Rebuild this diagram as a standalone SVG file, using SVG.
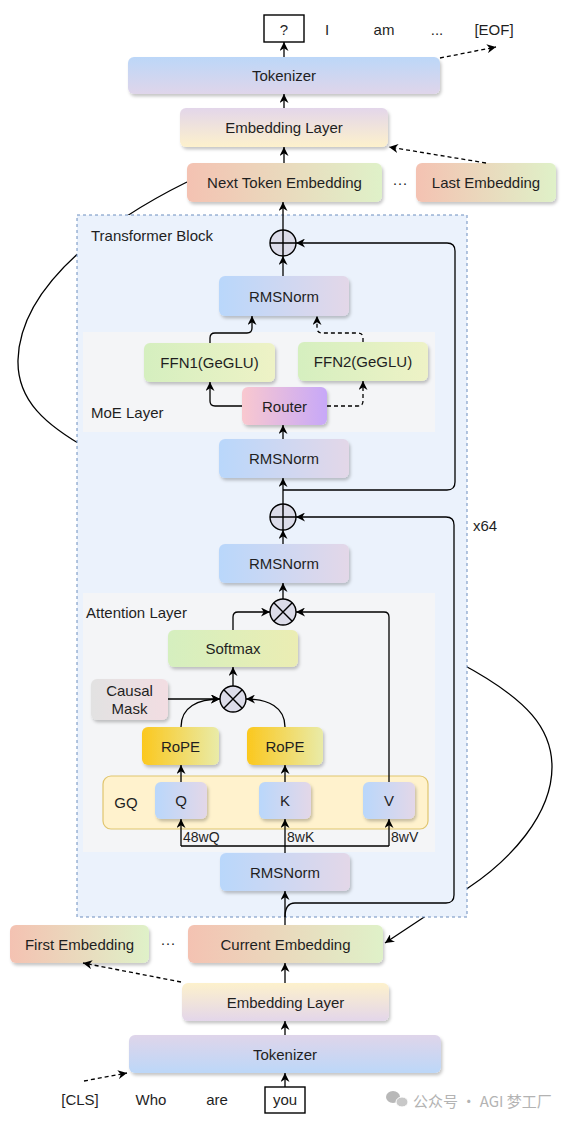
<svg xmlns="http://www.w3.org/2000/svg" width="578" height="1124" viewBox="0 0 578 1124">
<style>
text{font-family:"Liberation Sans",Arial,sans-serif;font-size:15px;fill:#1f1f1f;text-anchor:middle;dominant-baseline:central}
.n{filter:url(#sh)}
.ln{fill:none;stroke:#000;stroke-width:1.3}
.ar{marker-end:url(#ah)}
.ds{stroke-dasharray:4 3}
.op{fill:#dcdce9;stroke:#000;stroke-width:1.4}
.tl{text-anchor:start}
</style>
<defs>
<filter id="sh" x="-10%" y="-20%" width="130%" height="150%"><feDropShadow dx="1.5" dy="2.5" stdDeviation="1.5" flood-color="#000" flood-opacity="0.22"/></filter>
<marker id="ah" viewBox="0 0 10 10" refX="10" refY="5" markerWidth="9" markerHeight="9" markerUnits="userSpaceOnUse" orient="auto"><path d="M0,0 L10,5 L0,10 L3,5 z" fill="#000"/></marker>
<linearGradient id="gBlue" x1="0" y1="0" x2="1" y2="0"><stop offset="0" stop-color="#b9d7fb"/><stop offset="1" stop-color="#e3d7e8"/></linearGradient>
<linearGradient id="gTokT" x1="0" y1="0" x2="0" y2="1"><stop offset="0" stop-color="#bcd7f8"/><stop offset="1" stop-color="#dfd5ea"/></linearGradient>
<linearGradient id="gTokB" x1="0" y1="0" x2="0" y2="1"><stop offset="0" stop-color="#dfd5ea"/><stop offset="1" stop-color="#bcd7f8"/></linearGradient>
<linearGradient id="gEmbT" x1="0" y1="0" x2="0" y2="1"><stop offset="0" stop-color="#e3d6ea"/><stop offset="1" stop-color="#fdf1cc"/></linearGradient>
<linearGradient id="gEmbB" x1="0" y1="0" x2="0" y2="1"><stop offset="0" stop-color="#fdf1cc"/><stop offset="1" stop-color="#e3d6ea"/></linearGradient>
<linearGradient id="gTok" x1="0" y1="0" x2="1" y2="0"><stop offset="0" stop-color="#f4c2b2"/><stop offset="1" stop-color="#dff1c8"/></linearGradient>
<linearGradient id="gFFN" x1="0" y1="0" x2="1" y2="0"><stop offset="0" stop-color="#d5efbf"/><stop offset="1" stop-color="#eef2c6"/></linearGradient>
<linearGradient id="gSoft" x1="0" y1="0" x2="1" y2="0"><stop offset="0" stop-color="#d5efbf"/><stop offset="1" stop-color="#ebedb3"/></linearGradient>
<linearGradient id="gRouter" x1="0" y1="0" x2="1" y2="0"><stop offset="0" stop-color="#f9c8cf"/><stop offset="1" stop-color="#c7a8f8"/></linearGradient>
<linearGradient id="gRope" x1="0" y1="0" x2="1" y2="0"><stop offset="0" stop-color="#fbc81e"/><stop offset="1" stop-color="#e9eba8"/></linearGradient>
<linearGradient id="gMask" x1="0" y1="0" x2="1" y2="0"><stop offset="0" stop-color="#e2e2e2"/><stop offset="1" stop-color="#f2dde2"/></linearGradient>
</defs>
<rect width="578" height="1124" fill="#ffffff"/>

<g id="connectors-back">
<path class="ln" d="M187,182 C120,215 20,280 18,360 C17,400 45,425 90,450"/>
<path class="ln ar" d="M458,662 C530,700 552,730 552,767 C552,815 510,860 468,888 L385,943"/>
</g>

<g id="transformer-block">
<rect x="77" y="215" width="390" height="702" fill="#ebf2fc" stroke="#6c8ebf" stroke-width="1" stroke-dasharray="3 3"/>
<text class="tl" x="91" y="235">Transformer Block</text>
<text class="tl" x="473" y="525">x64</text>
</g>
<g id="moe-layer">
<rect x="83" y="332" width="352" height="100" fill="#f4f5f7"/>
<text class="tl" x="91" y="412">MoE Layer</text>
</g>
<g id="attention-layer">
<rect x="83" y="593" width="352" height="259" fill="#f4f5f7"/>
<text class="tl" x="86" y="612">Attention Layer</text>
</g>
<g id="gq">
<rect x="103" y="776" width="325" height="53" rx="8" fill="#fff2cd" stroke="#e0c56e" stroke-width="1.2"/>
<text x="126" y="802">GQ</text>
</g>

<g id="out-tokens">
<rect x="264" y="15" width="40" height="27" fill="#fff" stroke="#000" stroke-width="1.4"/>
<text x="284" y="29">?</text>
<text x="327" y="29">I</text>
<text x="384" y="29">am</text>
<text x="437" y="29">...</text>
<text x="494" y="29">[EOF]</text>
</g>
<g id="tokenizer-top"><rect class="n" x="128" y="57" width="312" height="37" rx="6" fill="url(#gTokT)"/><text x="284" y="75.5">Tokenizer</text></g>
<g id="embedding-top"><rect class="n" x="180" y="108" width="208" height="39" rx="6" fill="url(#gEmbT)"/><text x="284" y="127.5">Embedding Layer</text></g>
<g id="next-token"><rect class="n" x="187" y="163" width="195" height="39" rx="6" fill="url(#gTok)"/><text x="284.5" y="182.5">Next Token Embedding</text></g>
<g id="dots-top"><text x="400" y="182">···</text></g>
<g id="last-embedding"><rect class="n" x="416" y="163" width="140" height="39" rx="6" fill="url(#gTok)"/><text x="486" y="182.5">Last Embedding</text></g>

<g id="add-top"><circle class="op" cx="283" cy="243" r="13"/><path d="M270,243 H296 M283,230 V256" stroke="#000" stroke-width="1.4"/></g>
<g id="rmsnorm-1"><rect class="n" x="219" y="276" width="130" height="40" rx="6" fill="url(#gBlue)"/><text x="284" y="296">RMSNorm</text></g>
<g id="ffn1"><rect class="n" x="144" y="343" width="131" height="39" rx="6" fill="url(#gFFN)"/><text x="209.5" y="362.5">FFN1(GeGLU)</text></g>
<g id="ffn2"><rect class="n" x="298" y="342" width="130" height="39" rx="6" fill="url(#gFFN)"/><text x="363" y="361.5">FFN2(GeGLU)</text></g>
<g id="router"><rect class="n" x="242" y="387" width="85" height="38" rx="6" fill="url(#gRouter)"/><text x="284.5" y="406">Router</text></g>
<g id="rmsnorm-2"><rect class="n" x="219" y="439" width="130" height="39" rx="6" fill="url(#gBlue)"/><text x="284" y="458.5">RMSNorm</text></g>
<g id="add-bottom"><circle class="op" cx="283" cy="517" r="13"/><path d="M270,517 H296 M283,504 V530" stroke="#000" stroke-width="1.4"/></g>
<g id="rmsnorm-3"><rect class="n" x="219" y="544" width="130" height="39" rx="6" fill="url(#gBlue)"/><text x="284" y="563.5">RMSNorm</text></g>
<g id="mul-top"><circle class="op" cx="283" cy="612" r="13"/><path d="M273.8,602.8 L292.2,621.2 M292.2,602.8 L273.8,621.2" stroke="#000" stroke-width="1.4"/></g>
<g id="softmax"><rect class="n" x="168" y="630" width="130" height="37" rx="6" fill="url(#gSoft)"/><text x="233" y="648.5">Softmax</text></g>
<g id="causal-mask"><rect class="n" x="91" y="679" width="77" height="41" rx="6" fill="url(#gMask)"/><text x="129.5" y="690">Causal</text><text x="129.5" y="708">Mask</text></g>
<g id="mul-bottom"><circle class="op" cx="233" cy="699" r="13"/><path d="M223.8,689.8 L242.2,708.2 M242.2,689.8 L223.8,708.2" stroke="#000" stroke-width="1.4"/></g>
<g id="rope-q"><rect class="n" x="142" y="727" width="77" height="38" rx="6" fill="url(#gRope)"/><text x="180.5" y="746">RoPE</text></g>
<g id="rope-k"><rect class="n" x="247" y="727" width="76" height="38" rx="6" fill="url(#gRope)"/><text x="285" y="746">RoPE</text></g>
<g id="q"><rect class="n" x="155" y="782" width="52" height="37" rx="6" fill="url(#gBlue)"/><text x="181" y="800.5">Q</text></g>
<g id="k"><rect class="n" x="259" y="782" width="52" height="37" rx="6" fill="url(#gBlue)"/><text x="285" y="800.5">K</text></g>
<g id="v"><rect class="n" x="363" y="782" width="52" height="37" rx="6" fill="url(#gBlue)"/><text x="389" y="800.5">V</text></g>
<g id="rmsnorm-4"><rect class="n" x="220" y="853" width="130" height="38" rx="6" fill="url(#gBlue)"/><text x="285" y="872">RMSNorm</text></g>

<g id="first-embedding"><rect class="n" x="10" y="925" width="139" height="38" rx="6" fill="url(#gTok)"/><text x="79.5" y="944">First Embedding</text></g>
<g id="dots-bottom"><text x="168" y="942">···</text></g>
<g id="current-embedding"><rect class="n" x="188" y="925" width="195" height="38" rx="6" fill="url(#gTok)"/><text x="285.5" y="944">Current Embedding</text></g>
<g id="embedding-bottom"><rect class="n" x="182" y="983" width="207" height="38" rx="6" fill="url(#gEmbB)"/><text x="285.5" y="1002">Embedding Layer</text></g>
<g id="tokenizer-bottom"><rect class="n" x="129" y="1035" width="312" height="38" rx="6" fill="url(#gTokB)"/><text x="285" y="1054">Tokenizer</text></g>
<g id="in-tokens">
<text x="80" y="1099">[CLS]</text>
<text x="151" y="1099">Who</text>
<text x="217" y="1099">are</text>
<rect x="265" y="1087" width="40" height="26" fill="#fff" stroke="#000" stroke-width="1.4"/>
<text x="285" y="1099">you</text>
</g>
<g id="watermark">
<ellipse cx="393" cy="1097" rx="7" ry="6" fill="#b8b8b8"/>
<ellipse cx="402" cy="1102" rx="6" ry="5" fill="#c8c8c8" stroke="#fff" stroke-width="1"/>
<text class="tl" x="413" y="1100" style="font-family:'Noto Sans CJK SC','Liberation Sans',sans-serif;fill:#b3b3b3;font-size:15px">公众号 · AGI 梦工厂</text>
</g>

<g id="connectors">
<path class="ln ar" d="M284,57 V42"/>
<path class="ln ar ds" d="M440,58 L496,47"/>
<path class="ln ar" d="M284,108 V94"/>
<path class="ln ar" d="M284,163 V147"/>
<path class="ln ar ds" d="M486,163 L389,147"/>
<path class="ln ar" d="M283,230 V202"/>
<path class="ln ar" d="M283,276 V256"/>
<path class="ln ar" d="M283,490 H447 Q455,490 455,482 V251 Q455,243 447,243 H296"/>
<path class="ln ar" d="M210,343 V338 Q210,333 215,333 H247 Q252,333 252,328 V316"/>
<path class="ln ar ds" d="M363,342 V338 Q363,333 358,333 H322 Q317,333 317,328 V316"/>
<path class="ln ar" d="M242,406 H215 Q210,406 210,401 V382"/>
<path class="ln ar ds" d="M327,406 H358 Q363,406 363,401 V381"/>
<path class="ln ar" d="M283,439 V425"/>
<path class="ln ar" d="M283,504 V478"/>
<path class="ln ar" d="M283,544 V530"/>
<path class="ln ar" d="M285,917 Q285,903 295,903 H446 Q454,903 454,895 V525 Q454,517 446,517 H296"/>
<path class="ln ar" d="M283,599 V583"/>
<path class="ln ar" d="M233,630 V617 Q233,612 238,612 H270"/>
<path class="ln ar" d="M389,782 V617 Q389,612 384,612 H296"/>
<path class="ln ar" d="M233,686 V667"/>
<path class="ln ar" d="M168,699 H220"/>
<path class="ln ar" d="M181,727 C181,707 198,699 220,699"/>
<path class="ln ar" d="M285,727 C285,707 268,699 246,699"/>
<path class="ln ar" d="M181,782 V765"/>
<path class="ln ar" d="M285,782 V765"/>
<path class="ln" d="M285,853 V846 M181,846 H389"/>
<path class="ln ar" d="M181,846 V819"/>
<path class="ln ar" d="M285,846 V819"/>
<path class="ln ar" d="M389,846 V819"/>
<path class="ln ar" d="M285,925 V891"/>
<path class="ln ar" d="M285,983 V963"/>
<path class="ln ar ds" d="M181,982 L83,963"/>
<path class="ln ar" d="M285,1035 V1021"/>
<path class="ln ar" d="M285,1087 V1073"/>
<path class="ln ar ds" d="M84,1081 L127,1073"/>
</g>
<g id="edge-labels">
<text class="tl" x="183" y="837" style="font-size:14px">48wQ</text>
<text class="tl" x="287" y="837" style="font-size:14px">8wK</text>
<text class="tl" x="391" y="837" style="font-size:14px">8wV</text>
</g>
</svg>
